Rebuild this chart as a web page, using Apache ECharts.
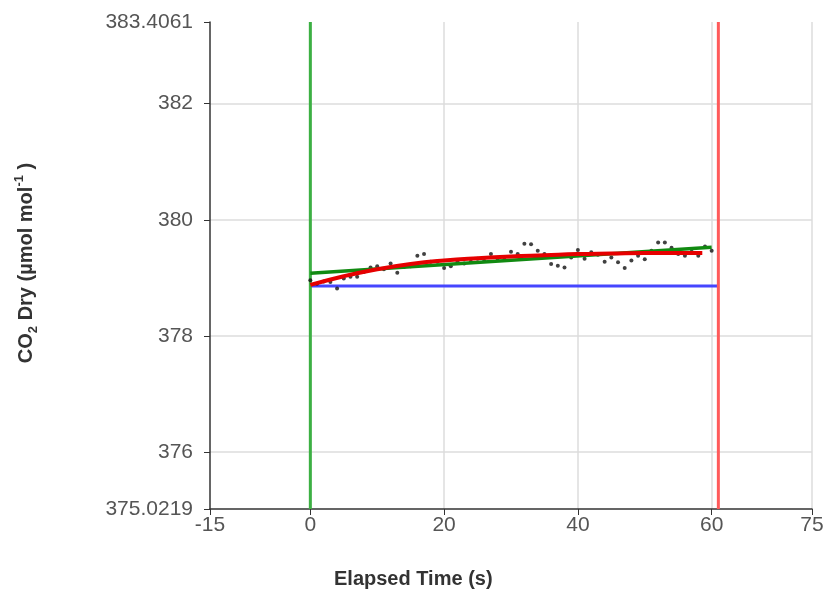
<!DOCTYPE html>
<html>
<head>
<meta charset="utf-8">
<script src="https://cdn.jsdelivr.net/npm/echarts@6/dist/echarts.min.js"></script>
<style>html,body{margin:0;padding:0;background:#fff}#c{width:828px;height:594px}</style>
</head>
<body>
<div id="c"></div>
<script>
var xTicks = [-15, 0, 20, 40, 60, 75];
var yTicks = [375.0219, 376, 378, 380, 382, 383.4061];
var obsTime = [0,1,2,3,4,5,6,7,8,9,10,11,12,13,14,15,16,17,18,19,20,21,22,23,24,25,26,27,28,29,30,31,32,33,34,35,36,37,38,39,40,41,42,43,44,45,46,47,48,49,50,51,52,53,54,55,56,57,58,59,60];
var obsCO2 = [378.96,378.90,378.94,378.93,378.82,378.99,379.02,379.02,379.10,379.18,379.20,379.15,379.25,379.09,379.19,379.20,379.38,379.41,379.28,379.28,379.17,379.20,379.28,379.25,379.28,379.33,379.29,379.41,379.33,379.35,379.45,379.41,379.59,379.58,379.47,379.41,379.24,379.21,379.18,379.35,379.48,379.33,379.44,379.40,379.28,379.35,379.27,379.17,379.30,379.38,379.32,379.47,379.61,379.61,379.52,379.41,379.38,379.45,379.38,379.54,379.47];
var expFitTime = [0,5,10,15,20,25,30,35,40,45,50,55,58.6];
var expFitCO2 = [378.88,379.03,379.15,379.24,379.30,379.34,379.37,379.39,379.41,379.42,379.43,379.43,379.43];
var linFitTime = [0, 60];
var linFitCO2 = [379.08, 379.53];
var baselineTime = [0, 61];
var baselineCO2 = [378.86, 378.86];
var startTime = 0;
var endTime = 61;

function pairs(a, b) { return a.map(function (v, i) { return [v, b[i]]; }); }
var yMin = yTicks[0], yMax = yTicks[yTicks.length - 1];
var xMin = xTicks[0], xMax = xTicks[xTicks.length - 1];

var chart = echarts.init(document.getElementById('c'));
var gridColor = '#dcdcdc';
var font = 'Liberation Sans, Arial, sans-serif';
chart.setOption({
  animation: false,
  grid: { left: 210, right: 16, top: 22, bottom: 85, containLabel: false },
  xAxis: {
    type: 'value', min: xMin, max: xMax,
    axisLine: { show: true, onZero: false, lineStyle: { color: '#333', width: 1.5 } },
    axisTick: { show: true, length: 6, customValues: xTicks, lineStyle: { color: '#333' } },
    axisLabel: { customValues: xTicks, color: '#555', fontSize: 21, fontFamily: font, margin: 6 },
    splitLine: { show: false }
  },
  yAxis: {
    type: 'value', min: yMin, max: yMax,
    axisLine: { show: true, onZero: false, lineStyle: { color: '#333', width: 1.5 } },
    axisTick: { show: true, length: 6, customValues: yTicks, lineStyle: { color: '#333' } },
    axisLabel: { customValues: yTicks, color: '#555', fontSize: 21, fontFamily: font, margin: 17,
      formatter: function (v) { return String(v); } },
    splitLine: { show: false }
  },
  graphic: [
    { type: 'text', left: 334, top: 569, style: { text: 'Elapsed Time (s)', fontSize: 20, fontWeight: 'bold', fill: '#333', fontFamily: font } },
    { type: 'text', x: 26, y: 263, rotation: Math.PI / 2,
      style: {
        text: '{a|CO}{s|2}{a| Dry (µmol mol}{p|-1}{a| )}',
        align: 'center', verticalAlign: 'middle',
        fill: '#333', fontFamily: font,
        rich: {
          a: { fontSize: 20, fontWeight: 'bold', fill: '#333', lineHeight: 27, verticalAlign: 'middle' },
          s: { fontSize: 13, fontWeight: 'bold', fill: '#333', lineHeight: 27, verticalAlign: 'bottom' },
          p: { fontSize: 13, fontWeight: 'bold', fill: '#333', lineHeight: 27, verticalAlign: 'top' }
        }
      } }
  ],
  series: [
    { type: 'line', data: [], silent: true, z: 0,
      markLine: { silent: true, z: 0, symbol: ['none', 'none'], label: { show: false },
        lineStyle: { color: gridColor, type: 'solid', width: 1.5 },
        data: xTicks.slice(1).map(function (v) { return { xAxis: v }; })
          .concat(yTicks.slice(1).map(function (v) { return { yAxis: v }; })) } },
    { type: 'line', z: 3, data: pairs(baselineTime, baselineCO2), showSymbol: false, lineStyle: { color: '#4646ff', width: 3 }, silent: true },
    { type: 'line', z: 3, data: [[startTime, yMin], [startTime, yMax]], showSymbol: false, lineStyle: { color: '#3cb043', width: 3 }, silent: true },
    { type: 'line', z: 3, data: [[endTime, yMin], [endTime, yMax]], showSymbol: false, lineStyle: { color: '#ff5a5a', width: 3 }, silent: true },
    { type: 'scatter', z: 4, data: pairs(obsTime, obsCO2), symbol: 'circle', symbolSize: 4, itemStyle: { color: '#111' }, silent: true },
    { type: 'line', z: 5, data: pairs(linFitTime, linFitCO2), showSymbol: false, lineStyle: { color: '#118a11', width: 3.5 }, silent: true },
    { type: 'line', z: 5, data: pairs(expFitTime, expFitCO2), showSymbol: false, smooth: true, lineStyle: { color: '#e60000', width: 4 }, silent: true }
  ]
});
</script>
</body>
</html>
